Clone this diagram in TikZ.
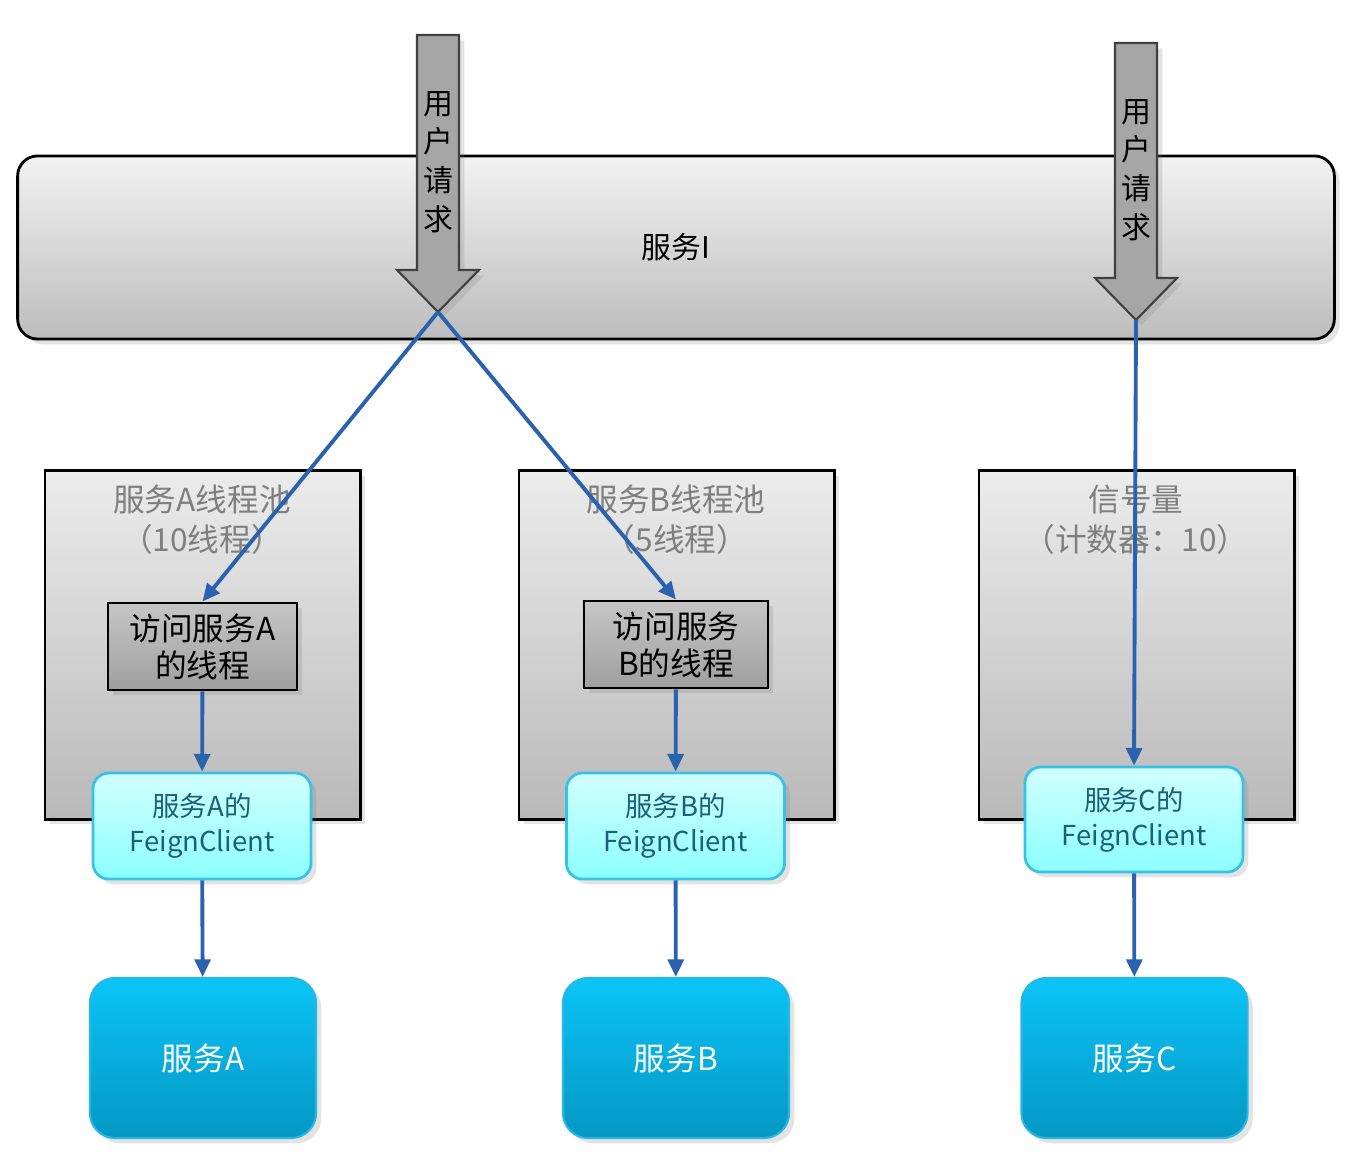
\documentclass[tikz,border=0pt]{standalone}
\usepackage{fontspec}
\setmainfont{Noto Sans CJK SC}
\usetikzlibrary{positioning,arrows.meta,shadows}

\definecolor{flowblue}{HTML}{2A62B0}
\definecolor{pooltxt}{HTML}{7F7F7F}
\definecolor{feigntxt}{HTML}{1B5F7A}
\definecolor{feignline}{HTML}{3AC1E6}
\definecolor{svcline}{HTML}{29B6E0}

\tikzset{
  softshadow/.style={drop shadow={opacity=0.22,shadow xshift=1.5pt,shadow yshift=-1.5pt}},
  mainbar/.style={draw=black,line width=0.8pt,rounded corners=0.2cm,
    top color=gray!10,bottom color=gray!52,softshadow,
    minimum width=13.16cm,minimum height=1.83cm,font=\fontsize{8.5}{10}\selectfont},
  reqarrow/.style={draw=black!75,line width=0.6pt,fill=gray!70,softshadow},
  reqtext/.style={align=center,font=\fontsize{8.5}{11}\selectfont,inner sep=0pt},
  poolbox/.style={draw=black,line width=0.8pt,top color=gray!15,bottom color=gray!55,
    softshadow,minimum width=3.15cm,minimum height=3.48cm},
  pooltext/.style={align=center,text=pooltxt,font=\fontsize{9}{11.4}\selectfont,inner sep=0pt},
  threadbox/.style={draw=black,line width=0.8pt,top color=gray!45,bottom color=gray!75,
    softshadow,minimum height=0.87cm,align=center,inner sep=0pt,
    font=\fontsize{9}{10.5}\selectfont},
  feignbox/.style={draw=feignline,line width=0.8pt,rounded corners=0.16cm,
    top color=cyan!18,bottom color=cyan!45,softshadow,
    minimum width=2.18cm,minimum height=1.06cm,align=center,inner sep=0pt,
    text=feigntxt,font=\fontsize{7.8}{10}\selectfont},
  svcbox/.style={draw=svcline,line width=0.6pt,rounded corners=0.25cm,
    top color={rgb,255:red,11;green,196;blue,247},bottom color={rgb,255:red,4;green,151;blue,196},
    softshadow,minimum width=2.26cm,minimum height=1.6cm,text=white,
    font=\fontsize{9}{11}\selectfont},
  flow/.style={draw=flowblue,line width=1.1pt,-{Triangle[length=5pt,width=4.5pt]}}
}

\begin{document}
\begin{tikzpicture}[x=0.01cm,y=-0.01cm]
 \useasboundingbox (0,0) rectangle (1346,1158);

 % service I and the two user requests
 \node[mainbar] (svcI) at (676,247.5) {服务I};
 \foreach \x/\top/\base/\name in {438/35/270/reqA,1136/43/278/reqC}{
   \draw[reqarrow] (\x-21,\top) -- (\x+21,\top) -- (\x+21,\base) -- (\x+41,\base)
     -- (\x,\base+42) -- (\x-41,\base) -- (\x-21,\base) -- cycle;
   \coordinate (\name) at (\x,\base+42);
   \node[reqtext] (\name txt) at (\x,\top+127) {用\\户\\请\\求};
 }

 % thread pools and semaphore
 \node[poolbox] (poolA) at (202.5,645) {};
 \node[poolbox] (poolB) at (676.5,645) {};
 \node[poolbox] (poolC) at (1136.5,645) {};
 \node[pooltext] (poolAtxt) at (202,520) {服务A线程池\\（10线程）};
 \node[pooltext] (poolBtxt) at (676,520) {服务B线程池\\（5线程）};
 \node[pooltext] (poolCtxt) at (1136,520) {信号量\\（计数器：10）};

 % threads
 \node[threadbox,minimum width=1.89cm] (thrA) at (202.5,646.5) {访问服务A\\的线程};
 \node[threadbox,minimum width=1.84cm] (thrB) at (676,644.5) {访问服务\\B的线程};

 % feign clients
 \node[feignbox] (feignA) at (202,826) {服务A的\\FeignClient};
 \node[feignbox] (feignB) at (675.5,826) {服务B的\\FeignClient};
 \node[feignbox,minimum height=1.05cm] (feignC) at (1134,819.5) {服务C的\\FeignClient};

 % services
 \node[svcbox] (svcA) at (203,1058) {服务A};
 \node[svcbox] (svcB) at (676,1058) {服务B};
 \node[svcbox] (svcC) at (1134.5,1058) {服务C};

 % connectors
 \draw[flow] (reqA) -- (thrA.north);
 \draw[flow] (reqA) -- (thrB.north);
 \draw[flow] (reqC) -- (feignC.north);
 \draw[flow] (thrA) -- (feignA);
 \draw[flow] (thrB) -- (feignB);
 \draw[flow] (feignA) -- (svcA);
 \draw[flow] (feignB) -- (svcB);
 \draw[flow] (feignC) -- (svcC);
\end{tikzpicture}
\end{document}
